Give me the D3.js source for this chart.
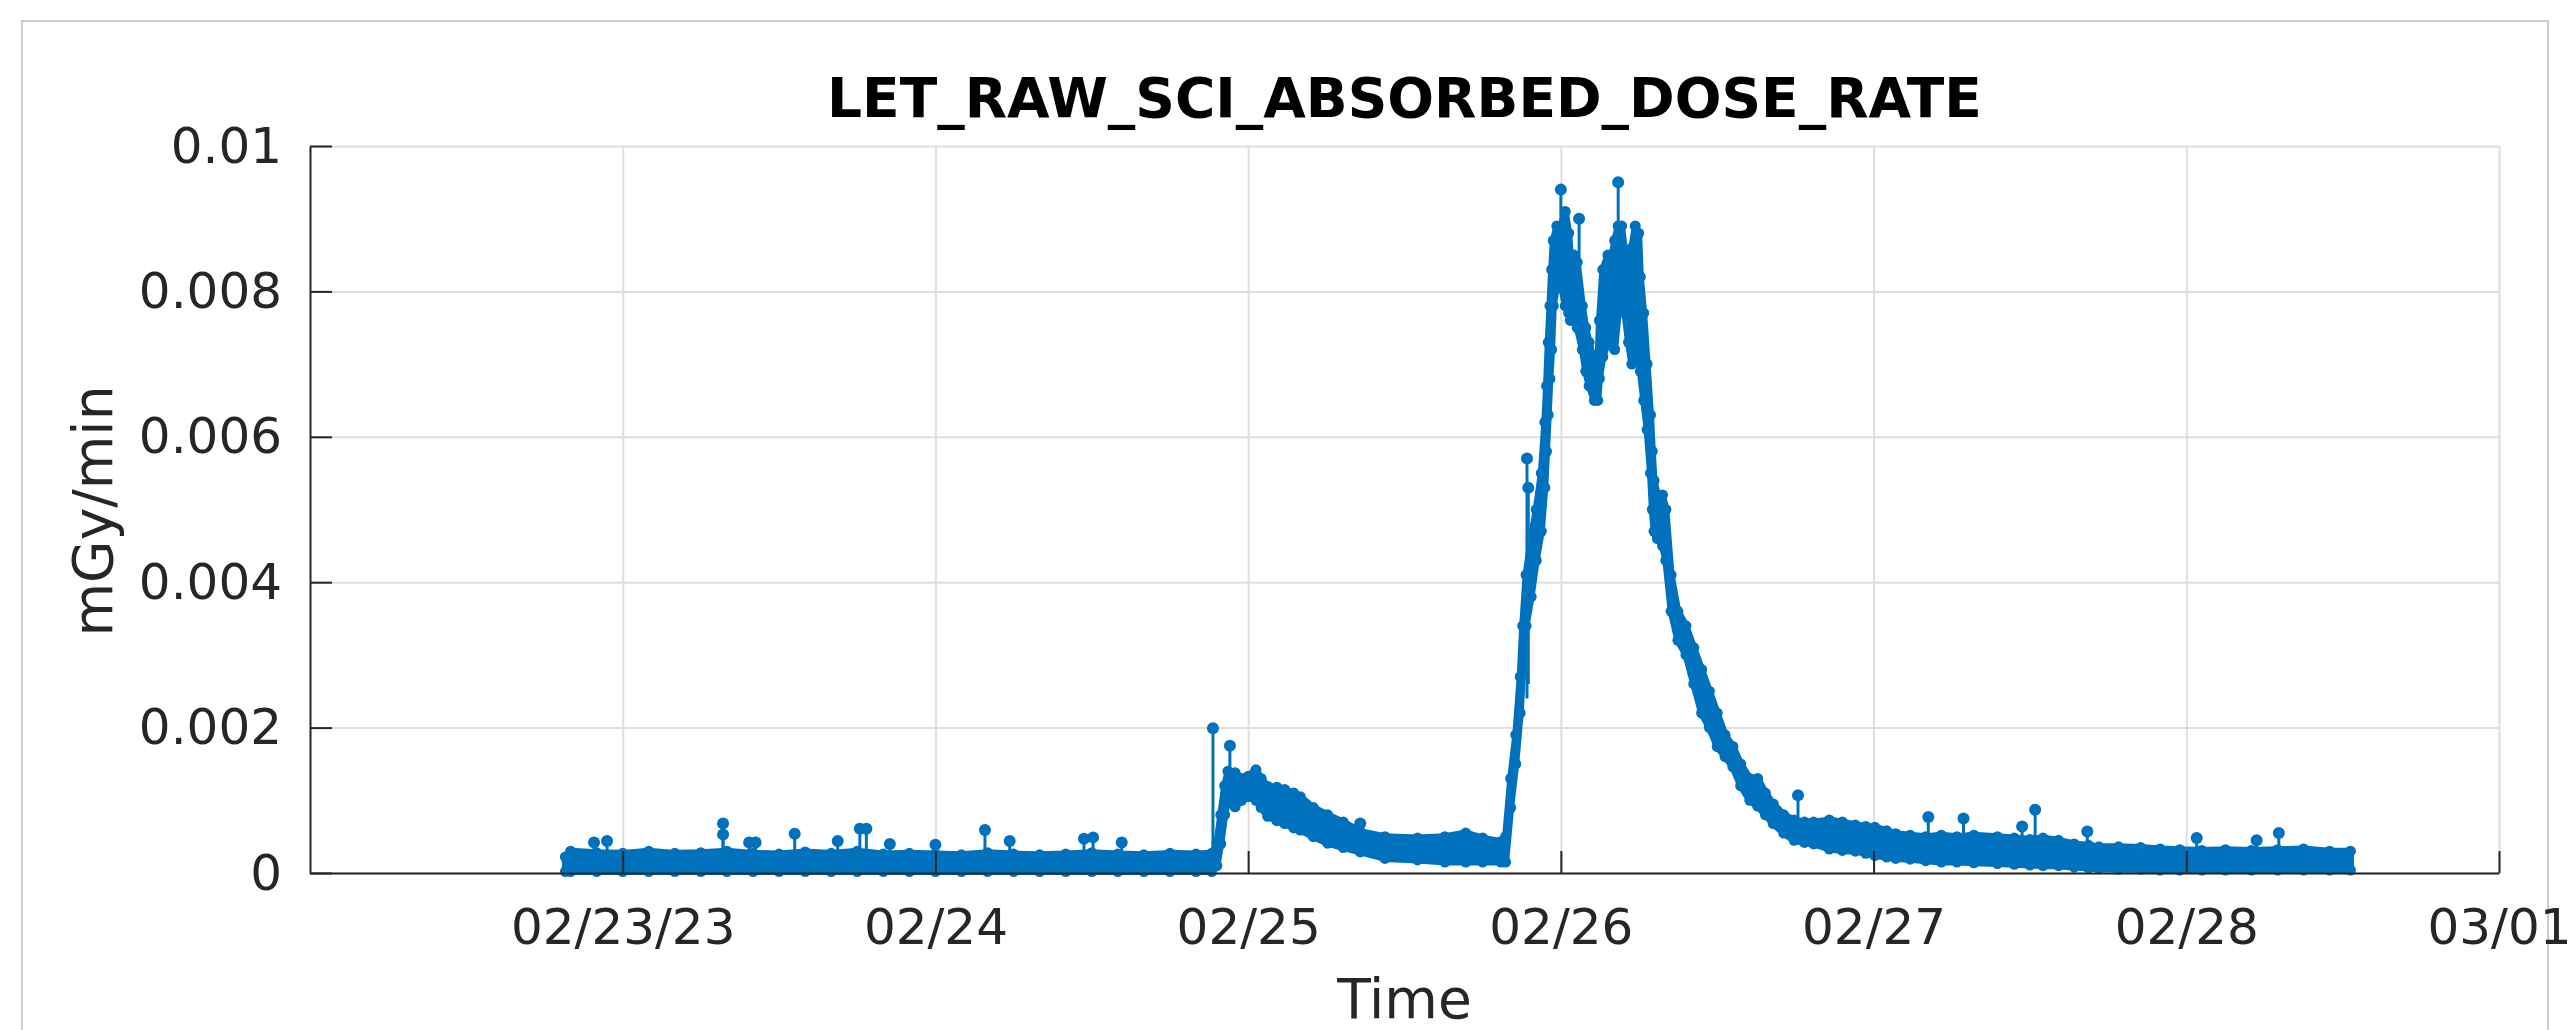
<!DOCTYPE html>
<html lang="en">
<head>
    <meta charset="UTF-8">
    <title>LET_RAW_SCI_ABSORBED_DOSE_RATE</title>
    <script src="https://d3js.org/d3.v7.min.js"></script>
    <style>
        body {
            margin: 0;
            background: #ffffff;
        }
        svg text {
            font-family: "DejaVu Sans", sans-serif;
        }
        .tick text {
            fill: #262626;
            font-size: 50px;
        }
        .axis path,
        .axis line {
            stroke: #262626;
            stroke-width: 2;
        }
        .grid line {
            stroke: #dedede;
            stroke-width: 2;
        }
        .grid path {
            display: none;
        }
        .axis-label {
            fill: #262626;
            font-size: 55px;
        }
    </style>
</head>
<body>
    <div id="chart"></div>

    <script>
        // hours since 02/22/23 00:00, band (upper / lower edge)
        const hours = [19.6, 20, 22, 24, 26, 28, 30, 32, 34, 36, 38, 40, 42, 44, 46, 48, 50, 52, 54, 56, 58, 60, 62, 64, 66, 68, 69.2,
            69.6, 69.9, 70.2, 70.45, 71.0, 71.5, 72.0, 72.6, 73.0, 73.5, 74.2, 74.8, 75.5, 76.0, 77.0, 78.1, 79.3, 80.6, 82.5, 85.0, 87.1, 88.7, 90.0, 91.4, 91.76,
            92.15, 92.54, 92.88, 93.07, 93.33, 93.72, 94.11, 94.5, 94.77, 94.9, 95.03, 95.16, 95.29, 95.42, 95.69, 96.02, 96.34, 96.6, 96.73, 97.0, 97.26, 97.65, 97.91, 98.17, 98.57, 98.83, 98.96, 99.22, 99.61, 99.87, 100.13, 100.4, 100.66, 100.92, 101.19, 101.45, 101.71, 101.97, 102.1, 102.36, 102.62, 102.88, 103.02, 103.15, 103.41, 103.8, 104.06, 104.46, 104.98, 105.6, 106.2, 106.8, 107.4, 108.0, 108.6, 109.2, 109.8, 110.5, 111.1, 111.7, 112.3, 113.1, 113.9, 114.7, 115.4, 116.6, 117.6, 118.6, 119.4, 120.1, 121.0, 121.7, 122.8, 124.0, 125.2, 126.4, 127.7, 129.5, 130.8, 132.0, 133.0, 134.2, 135.4, 136.5, 137.3, 138.8, 140.5, 142.0, 143.5, 145.2, 147.0, 149.0, 151.0, 153.0, 155.0, 156.6];

        const upper = [0.00022, 0.0003, 0.00028, 0.00027, 0.0003, 0.00027, 0.00028, 0.0003, 0.00027, 0.00026, 0.00029, 0.00027, 0.0003, 0.00026, 0.00027, 0.00026, 0.00025, 0.00028, 0.00026, 0.00025, 0.00026, 0.00028, 0.00026, 0.00025, 0.00027, 0.00026, 0.00027,
            0.0004, 0.0008, 0.0012, 0.0014, 0.00138, 0.0013, 0.00133, 0.00142, 0.0013, 0.00119, 0.00118, 0.00115, 0.0011, 0.00105, 0.0009, 0.0008, 0.0007, 0.00057, 0.0005, 0.00048, 0.0005, 0.00055, 0.00048, 0.00043, 0.0005,
            0.0013, 0.0019, 0.0027, 0.0034, 0.0041, 0.0046, 0.005, 0.0055, 0.0062, 0.0067, 0.0073, 0.0078, 0.0083, 0.0087, 0.0089, 0.0089, 0.0091, 0.0088, 0.0085, 0.0085, 0.0084, 0.0078, 0.0075, 0.0073, 0.007, 0.0069, 0.0076, 0.0083, 0.0085, 0.0084, 0.0087, 0.0089, 0.0089, 0.0085, 0.0083, 0.0086, 0.0089, 0.0088, 0.0082, 0.0077, 0.007, 0.0063, 0.0058, 0.0054, 0.0052, 0.0052, 0.005, 0.0041, 0.0036, 0.0034, 0.0031, 0.0028, 0.0025, 0.0022, 0.0019, 0.00174, 0.0015, 0.0013, 0.0013, 0.0011, 0.00095, 0.0008, 0.00073, 0.0007, 0.0007, 0.00073, 0.0007, 0.00066, 0.00064, 0.00063, 0.00058, 0.00054, 0.00052, 0.0005, 0.00052, 0.0005, 0.00052, 0.0005, 0.00048, 0.00046, 0.00048, 0.00045, 0.0004, 0.00038, 0.00036, 0.00036, 0.00035, 0.00033, 0.00032, 0.00031, 0.00032, 0.00031, 0.00032, 0.00033, 0.0003, 0.0003];

        const lower = [0.00002, 0.00002, 0.00002, 0.00002, 0.00002, 0.00002, 0.00002, 0.00002, 0.00002, 0.00002, 0.00002, 0.00002, 0.00002, 0.00002, 0.00002, 0.00002, 0.00002, 0.00002, 0.00002, 0.00002, 0.00002, 0.00002, 0.00002, 0.00002, 0.00002, 0.00002, 0.00002,
            0.0001, 0.0004, 0.0008, 0.001, 0.00091, 0.001, 0.00105, 0.001, 0.0009, 0.00078, 0.00072, 0.00068, 0.00062, 0.00059, 0.0005, 0.00041, 0.00035, 0.00029, 0.0002, 0.00018, 0.00015, 0.00015, 0.00015, 0.00015, 0.00015,
            0.0009, 0.0015, 0.0022, 0.0028, 0.0034, 0.0038, 0.0043, 0.0047, 0.0053, 0.0058, 0.0063, 0.0068, 0.0072, 0.0078, 0.0081, 0.0081, 0.0078, 0.0077, 0.0076, 0.0078, 0.0075, 0.0072, 0.0069, 0.0067, 0.0065, 0.0065, 0.0068, 0.0071, 0.0073, 0.0075, 0.0072, 0.0077, 0.0078, 0.0077, 0.0073, 0.007, 0.0073, 0.0072, 0.0069, 0.0065, 0.0061, 0.0055, 0.005, 0.0047, 0.0046, 0.0045, 0.0043, 0.0036, 0.0032, 0.003, 0.0026, 0.0022, 0.002, 0.00174, 0.0016, 0.00146, 0.0012, 0.001, 0.00092, 0.0008, 0.00068, 0.00055, 0.00045, 0.00042, 0.0004, 0.00033, 0.00031, 0.0003, 0.00027, 0.00024, 0.00022, 0.0002, 0.00019, 0.00017, 0.00015, 0.00015, 0.00014, 0.00013, 0.00012, 0.00011, 0.0001, 0.0001, 0.00008, 0.00007, 0.00006, 0.00005, 0.00005, 0.00004, 0.00004, 0.00004, 0.00004, 0.00004, 0.00004, 0.00004, 0.00004, 0.00004];

        // isolated excursions above the band
        const spikeHours = [21.8, 22.8, 31.7, 31.7, 33.7, 34.2, 37.2, 40.5, 42.2, 42.7, 44.5, 48.0, 51.8, 53.7, 59.4, 60.1, 62.3, 69.3, 70.6, 80.6, 93.4, 93.5, 96.0, 97.4, 100.4, 114.2, 124.2, 126.9, 131.4, 132.4, 136.4, 144.8, 149.4, 151.1];
        const spikeBase = [0.00027, 0.00027, 0.00028, 0.00028, 0.00027, 0.00027, 0.00027, 0.00027, 0.00028, 0.00028, 0.00026, 0.00026, 0.00026, 0.00026, 0.00026, 0.00027, 0.00026, 0.0002, 0.0014, 0.00055, 0.0024, 0.0026, 0.0088, 0.0084, 0.0089, 0.0007, 0.0005, 0.0005, 0.00048, 0.00046, 0.00038, 0.00031, 0.00031, 0.00032];
        const spikeTop = [0.00042, 0.00044, 0.00068, 0.00053, 0.00042, 0.00042, 0.00054, 0.00044, 0.00061, 0.00061, 0.0004, 0.00039, 0.00059, 0.00044, 0.00047, 0.00049, 0.00042, 0.00199, 0.00175, 0.00068, 0.0057, 0.0053, 0.0094, 0.009, 0.0095, 0.00107, 0.00077, 0.00075, 0.00064, 0.00087, 0.00057, 0.00048, 0.00045, 0.00055];

        const yTicks = [0, 0.002, 0.004, 0.006, 0.008, 0.01];
        const xTickDays = ["2023-02-23", "2023-02-24", "2023-02-25", "2023-02-26", "2023-02-27", "2023-02-28", "2023-03-01"];
        const xTickLabels = ["02/23/23", "02/24", "02/25", "02/26", "02/27", "02/28", "03/01"];

        const start = new Date("2023-02-22T00:00:00Z");
        const toDate = h => new Date(start.getTime() + h * 3600e3);

        const W = 2576, H = 1030;
        const margin = { top: 146, right: 77, bottom: 157, left: 310 };
        const width = W - margin.left - margin.right,
              height = H - margin.top - margin.bottom;
        const blue = "#0072BD";

        const svg = d3.select("#chart").append("svg")
            .attr("width", W)
            .attr("height", H);

        // outer figure frame
        svg.append("rect")
            .attr("x", 22).attr("y", 21)
            .attr("width", 2526).attr("height", 1040)
            .attr("fill", "none")
            .attr("stroke", "#cccccc")
            .attr("stroke-width", 2);

        const g = svg.append("g")
            .attr("transform", `translate(${margin.left},${margin.top})`);

        const x = d3.scaleUtc()
            .domain([start, new Date("2023-03-01T00:00:00Z")])
            .range([0, width]);

        const y = d3.scaleLinear()
            .domain([0, 0.01])
            .range([height, 0]);

        const xTickValues = xTickDays.map(d => new Date(d + "T00:00:00Z"));

        // grid
        g.append("g")
            .attr("class", "grid")
            .call(d3.axisLeft(y).tickValues(yTicks).tickSize(-width).tickFormat(""));
        g.append("g")
            .attr("class", "grid")
            .attr("transform", `translate(0,${height})`)
            .call(d3.axisBottom(x).tickValues(xTickValues).tickSize(height).tickFormat(""))
            .selectAll("line").attr("y2", -height);

        // data band
        const pts = hours.map((h, i) => ({ t: toDate(h), hi: upper[i], lo: lower[i] }));

        const area = d3.area()
            .x(d => x(d.t))
            .y0(d => y(d.lo))
            .y1(d => y(d.hi));

        g.append("path")
            .datum(pts)
            .attr("d", area)
            .attr("fill", blue)
            .attr("stroke", blue)
            .attr("stroke-width", 7)
            .attr("stroke-linejoin", "round");

        const markers = pts.flatMap(d => [{ t: d.t, v: d.hi }, { t: d.t, v: d.lo }]);
        g.selectAll(".mk")
            .data(markers)
            .enter().append("circle")
            .attr("class", "mk")
            .attr("cx", d => x(d.t))
            .attr("cy", d => y(d.v))
            .attr("r", 5.5)
            .attr("fill", blue);

        const spikes = spikeHours.map((h, i) => ({ t: toDate(h), b: spikeBase[i], v: spikeTop[i] }));
        g.selectAll(".spk")
            .data(spikes)
            .enter().append("line")
            .attr("class", "spk")
            .attr("x1", d => x(d.t)).attr("x2", d => x(d.t))
            .attr("y1", d => y(d.b)).attr("y2", d => y(d.v))
            .attr("stroke", blue)
            .attr("stroke-width", 3);
        g.selectAll(".spkdot")
            .data(spikes)
            .enter().append("circle")
            .attr("class", "spkdot")
            .attr("cx", d => x(d.t))
            .attr("cy", d => y(d.v))
            .attr("r", 6)
            .attr("fill", blue);

        // axes
        g.append("g")
            .attr("class", "axis")
            .attr("transform", `translate(0,${height})`)
            .call(d3.axisBottom(x)
                .tickValues(xTickValues)
                .tickSize(-22)
                .tickSizeOuter(0)
                .tickPadding(35)
                .tickFormat((d, i) => xTickLabels[i]));

        g.append("g")
            .attr("class", "axis")
            .call(d3.axisLeft(y)
                .tickValues(yTicks)
                .tickSize(-22)
                .tickSizeOuter(0)
                .tickPadding(28)
                .tickFormat(d => d === 0 ? "0" : d3.format("~g")(d)));

        // title and labels
        svg.append("text")
            .attr("x", margin.left + width / 2)
            .attr("y", 117)
            .attr("text-anchor", "middle")
            .style("font-size", "55px")
            .style("font-weight", "bold")
            .attr("fill", "#000")
            .text("LET_RAW_SCI_ABSORBED_DOSE_RATE");

        svg.append("text")
            .attr("class", "axis-label")
            .attr("x", margin.left + width / 2)
            .attr("y", 1018)
            .attr("text-anchor", "middle")
            .text("Time");

        svg.append("text")
            .attr("class", "axis-label")
            .attr("transform", "translate(112,511) rotate(-90)")
            .attr("text-anchor", "middle")
            .text("mGy/min");
    </script>
</body>
</html>
